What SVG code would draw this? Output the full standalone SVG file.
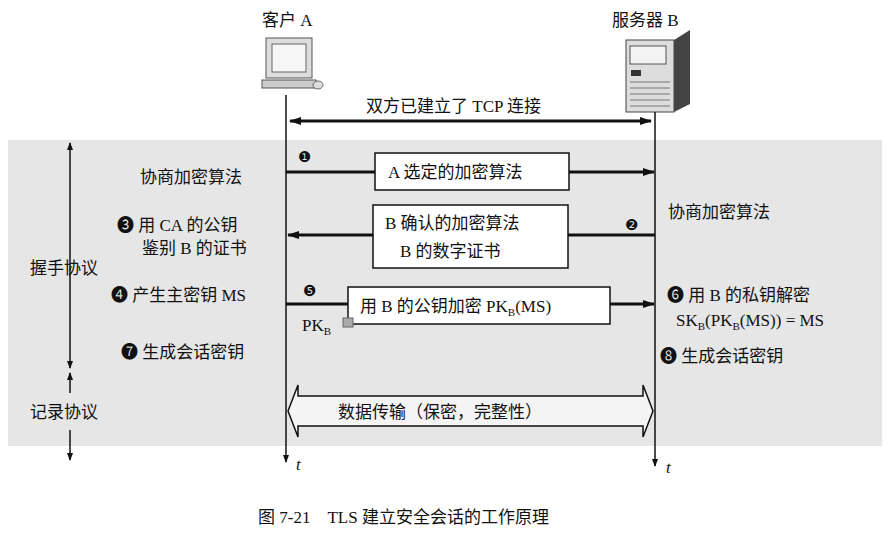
<svg xmlns="http://www.w3.org/2000/svg" width="896" height="538" viewBox="0 0 896 538">
<style>
text{font-family:"Liberation Serif","Noto Sans CJK SC",serif;font-size:17px;fill:#111}
.ln{stroke:#111;stroke-width:1.5;fill:none}
.ar{stroke:#111;stroke-width:3;fill:none}
.box{fill:#fff;stroke:#111;stroke-width:1.5}
.num{font-family:"DejaVu Sans",sans-serif;font-size:15px}
</style>
<defs>
<marker id="ah" viewBox="0 0 12 8" refX="11" refY="4" markerWidth="12" markerHeight="8" markerUnits="userSpaceOnUse" orient="auto-start-reverse"><path d="M0,0L12,4L0,8z" fill="#111"/></marker>
<marker id="sh" viewBox="0 0 8 8" refX="7" refY="4" markerWidth="8" markerHeight="8" markerUnits="userSpaceOnUse" orient="auto-start-reverse"><path d="M0,1L8,4L0,7z" fill="#111"/></marker>
</defs>
<rect width="896" height="538" fill="#fff"/>
<rect x="8" y="140" width="874" height="306" fill="#e6e6e6"/>
<g id="clientA">
<text x="262" y="26">客户 A</text>
<rect x="266" y="38" width="46" height="40" fill="#ddd" stroke="#555"/>
<rect x="272" y="44" width="34" height="28" fill="#f6f6f6" stroke="#666"/>
<rect x="262" y="80" width="54" height="8" fill="#ccc" stroke="#555"/>
<ellipse cx="318" cy="85" rx="5" ry="4" fill="#ddd" stroke="#666"/>
</g>
<g id="serverB">
<text x="612" y="26">服务器 B</text>
<rect x="626" y="40" width="48" height="72" fill="#ddd" stroke="#444"/>
<path d="M674,40L690,30V104L674,112z" fill="#444"/>
<rect x="630" y="46" width="36" height="18" fill="#f3f3f3" stroke="#555"/>
<rect x="631" y="70" width="10" height="6" fill="#333"/>
<path d="M630,82H670M630,88H670M630,94H670M630,100H670M630,106H670" stroke="#777"/>
</g>
<g id="connectors">
<line class="ln" x1="286" y1="95" x2="286" y2="462" marker-end="url(#sh)"/>
<line class="ln" x1="655" y1="112" x2="655" y2="466" marker-end="url(#sh)"/>
<line class="ar" x1="290" y1="121" x2="651" y2="121" marker-start="url(#ah)" marker-end="url(#ah)"/>
<line class="ar" x1="286" y1="172" x2="654" y2="172" marker-end="url(#ah)"/>
<line class="ar" x1="655" y1="235" x2="288" y2="235" marker-end="url(#ah)"/>
<line class="ar" x1="286" y1="304" x2="654" y2="304" marker-end="url(#ah)"/>
<line class="ln" x1="70" y1="143" x2="70" y2="368" marker-start="url(#sh)" marker-end="url(#sh)"/>
<line class="ln" x1="70" y1="393" x2="70" y2="373" marker-end="url(#sh)"/>
<line class="ln" x1="70" y1="430" x2="70" y2="460" marker-end="url(#sh)"/>
</g>
<text x="366" y="112">双方已建立了 TCP 连接</text>
<g id="msg1">
<rect class="box" x="375" y="153" width="194" height="37"/>
<text x="388" y="178">A 选定的加密算法</text>
<text class="num" x="298" y="162">❶</text>
</g>
<g id="msg2">
<rect class="box" x="373" y="205" width="195" height="63"/>
<text x="385" y="229">B 确认的加密算法</text>
<text x="400" y="257">B 的数字证书</text>
<text class="num" x="625" y="230">❷</text>
</g>
<g id="msg5">
<rect class="box" x="348" y="287" width="262" height="37"/>
<text x="360" y="312">用 B 的公钥加密 PK<tspan font-size="11" dy="4">B</tspan><tspan dy="-4">(MS)</tspan></text>
<text class="num" x="303" y="296">❺</text>
<text x="302" y="331">PK<tspan font-size="11" dy="4">B</tspan></text>
<rect x="343" y="318" width="10" height="9" fill="#aaa" stroke="#666"/>
</g>
<g id="data">
<path d="M288,411L298,385V396H643V385L653,411L643,437V426H298V437Z" fill="#f4f4f4" stroke="#111" stroke-width="1.5"/>
<text x="338" y="418" font-size="18">数据传输（保密，完整性）</text>
</g>
<g id="leftlabels">
<text x="140" y="183">协商加密算法</text>
<text x="117" y="231">❸ 用 CA 的公钥</text>
<text x="142" y="254">鉴别 B 的证书</text>
<text x="111" y="301">❹ 产生主密钥 MS</text>
<text x="121" y="358">❼ 生成会话密钥</text>
<text x="30" y="274">握手协议</text>
<text x="30" y="418">记录协议</text>
</g>
<g id="rightlabels">
<text x="668" y="218">协商加密算法</text>
<text x="667" y="301">❻ 用 B 的私钥解密</text>
<text x="676" y="326">SK<tspan font-size="11" dy="4">B</tspan><tspan dy="-4">(PK</tspan><tspan font-size="11" dy="4">B</tspan><tspan dy="-4">(MS)) = MS</tspan></text>
<text x="660" y="362">❽ 生成会话密钥</text>
</g>
<text x="296" y="470" font-style="italic">t</text>
<text x="666" y="473" font-style="italic">t</text>
<text x="258" y="523">图 7-21　TLS 建立安全会话的工作原理</text>
</svg>
